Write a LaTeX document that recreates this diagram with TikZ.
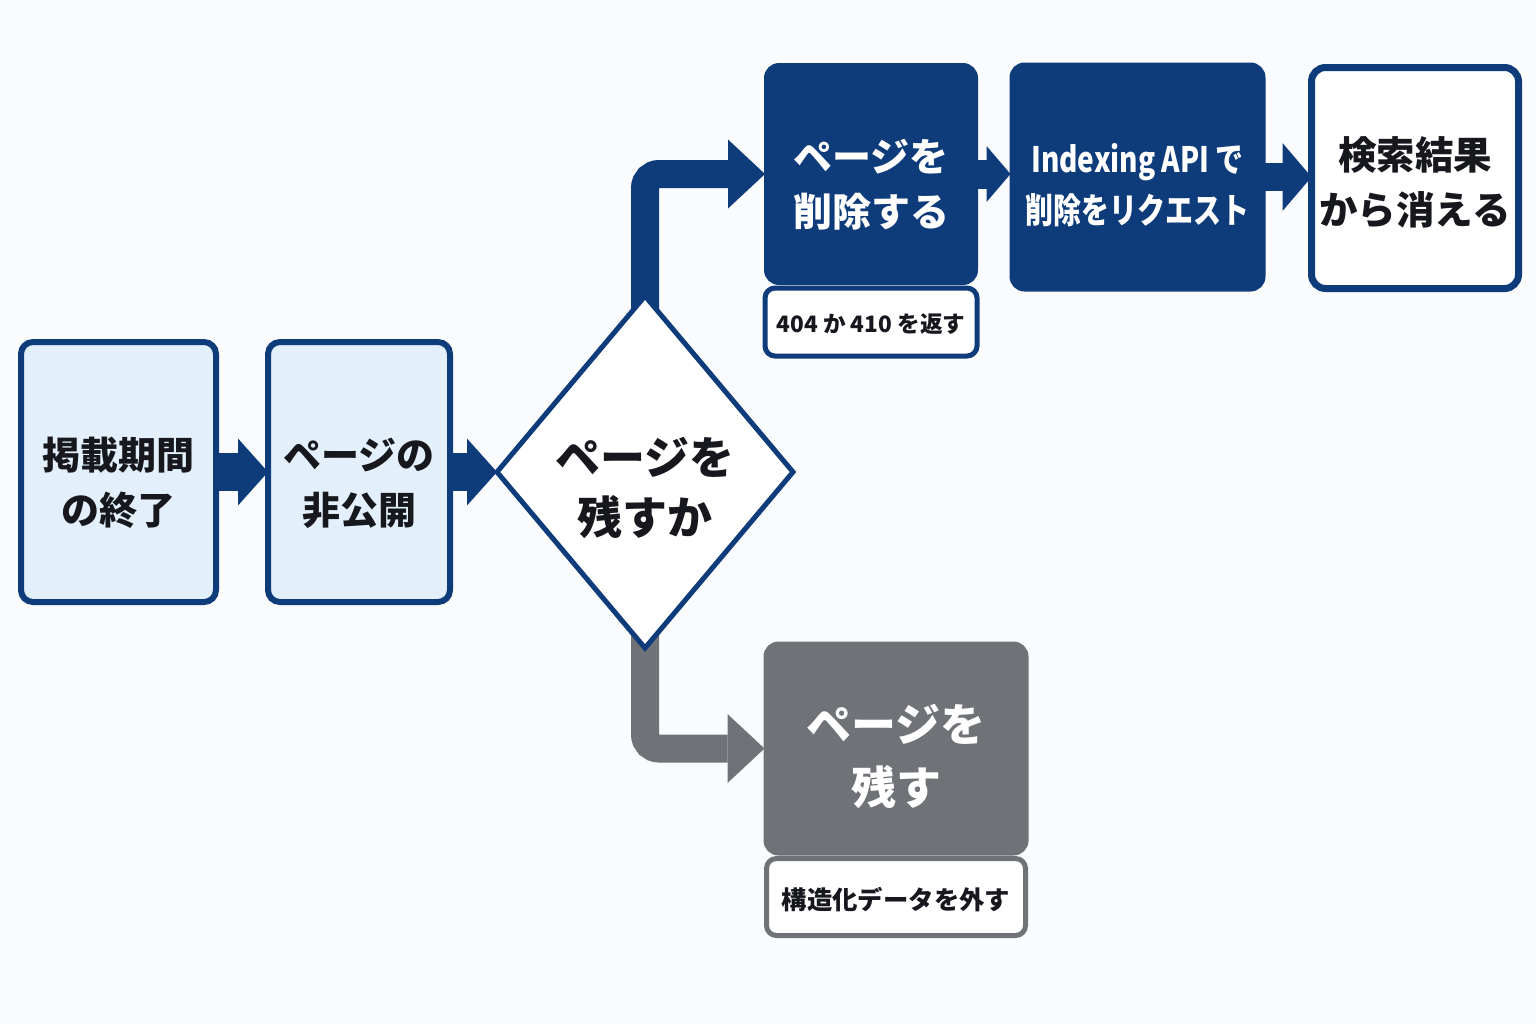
\documentclass[tikz,border=0pt]{standalone}
\usepackage{fontspec}
\setmainfont{Noto Sans CJK JP}
\newfontfamily\narrowjp{Noto Sans CJK JP}[FakeStretch=0.8]
\usetikzlibrary{arrows.meta,backgrounds,calc,positioning,shapes.geometric}
\definecolor{navy}{HTML}{0E3C7B}
\definecolor{paleblue}{HTML}{E3F0FB}
\definecolor{slate}{HTML}{6F7277}
\definecolor{ink}{HTML}{16181D}
\definecolor{pagebg}{HTML}{FAFBFD}
\newcommand{\jpsize}[2]{\bfseries\fontsize{#1}{#2}\selectfont}
\tikzstyle{softbox}=[
  draw=navy,
  fill=paleblue,
  line width=3pt,
  rounded corners=6pt,
  text=ink,
  font={\jpsize{19pt}{27.5pt}},
  align=center,
  inner sep=0pt,
  outer sep=0pt,
  minimum height=130pt,
  text height=52pt,
  text depth=0pt,
]
\tikzstyle{solidbox}=[
  draw=navy,
  fill=navy,
  line width=1pt,
  rounded corners=7pt,
  text=white,
  font={\jpsize{19.5pt}{27.5pt}},
  align=center,
  inner sep=0pt,
  outer sep=0pt,
  text height=52.3pt,
  text depth=0pt,
]
\tikzstyle{notebox}=[
  draw=navy,
  fill=white,
  line width=2.5pt,
  rounded corners=5pt,
  text=ink,
  font={\jpsize{11.3pt}{15pt}},
  align=center,
  inner sep=0pt,
  outer sep=0pt,
  text height=10.6pt,
  text depth=0pt,
]
\tikzstyle{decision}=[
  diamond,
  draw=navy,
  fill=white,
  line width=2.5pt,
  shape aspect=0.85,
  text=ink,
  font={\jpsize{22.5pt}{30pt}},
  align=center,
  inner sep=0pt,
  outer sep=0pt,
  minimum width=148pt,
  minimum height=176pt,
  text height=62pt,
  text depth=0pt,
]
\tikzstyle{flow}=[
  draw=navy,
  line width=19pt,
  -{Triangle[length=15pt,width=33.5pt,line width=0pt]},
]
\tikzstyle{branch}=[
  draw=navy,
  line width=14pt,
  rounded corners=7pt,
  -{Triangle[length=18.5pt,width=34.5pt,line width=0pt]},
]
\tikzstyle{link}=[
  draw=navy,
  line width=14.5pt,
  -{Triangle[length=12pt,width=28pt,line width=0pt]},
]
\tikzset{
  node distance=2pt,
}

\begin{document}
\begin{tikzpicture}[x=0.5pt,y=-0.5pt]
  \path [use as bounding box] (0,0) rectangle (1536,1024);
  %%
  \node (ending) [softbox, minimum width=97.5pt] at (118.5,472) {掲載期間\\の終了};
  \node (unpublish) [softbox, minimum width=91pt] at (359,472) {ページの\\非公開};
  \node (decide) [decision] at (645,472) {ページを\\残すか};
  %%
  \node (delete) [solidbox, minimum width=106pt, minimum height=110pt] at (871,174) {ページを\\削除する};
  \node (status) [notebox, below=of delete, minimum width=106pt, minimum height=34pt] {404 か 410 を返す};
  \node (indexing) [solidbox, minimum width=127pt, minimum height=113.5pt, text height=46.3pt,
    font={\narrowjp\jpsize{17.5pt}{25.5pt}}] at (1137.5,177) {Indexing API で\\削除をリクエスト};
  \node (vanish) [solidbox, fill=white, text=ink, line width=3.5pt, text height=46.1pt,
    minimum width=103.5pt, minimum height=110.5pt, font={\jpsize{19.25pt}{27.5pt}}]
    at (1415,178) {検索結果\\から消える};
  %%
  \node (keep) [solidbox, draw=slate, fill=slate, minimum width=131.5pt, text height=55.6pt,
    minimum height=106pt, font={\jpsize{22.5pt}{31.5pt}}] at (896,748.5) {ページを\\残す};
  \node (strip) [notebox, draw=slate, below=of keep, minimum width=129.5pt,
    minimum height=38.5pt, font={\jpsize{12.7pt}{15pt}}, text height=12.7pt] {構造化データを外す};
  %%
  \begin{scope}[on background layer]
    \fill [pagebg] (0,0) rectangle (1536,1024);
    \draw [flow] (ending.east) -- (unpublish.west);
    \draw [flow] (unpublish.east) -- (decide.west);
    \draw [branch] ($(decide.north)+(0,16)$) |- (delete.west);
    \draw [branch, draw=slate] ($(decide.south)+(0,-16)$) |- (keep.west);
    \draw [link] (delete.east) -- (delete.east -| indexing.west);
    \draw [link, line width=14pt, -{Triangle[length=14.5pt,width=34pt,line width=0pt]}]
      (indexing.east) -- (indexing.east -| vanish.west);
  \end{scope}
\end{tikzpicture}
\end{document}
